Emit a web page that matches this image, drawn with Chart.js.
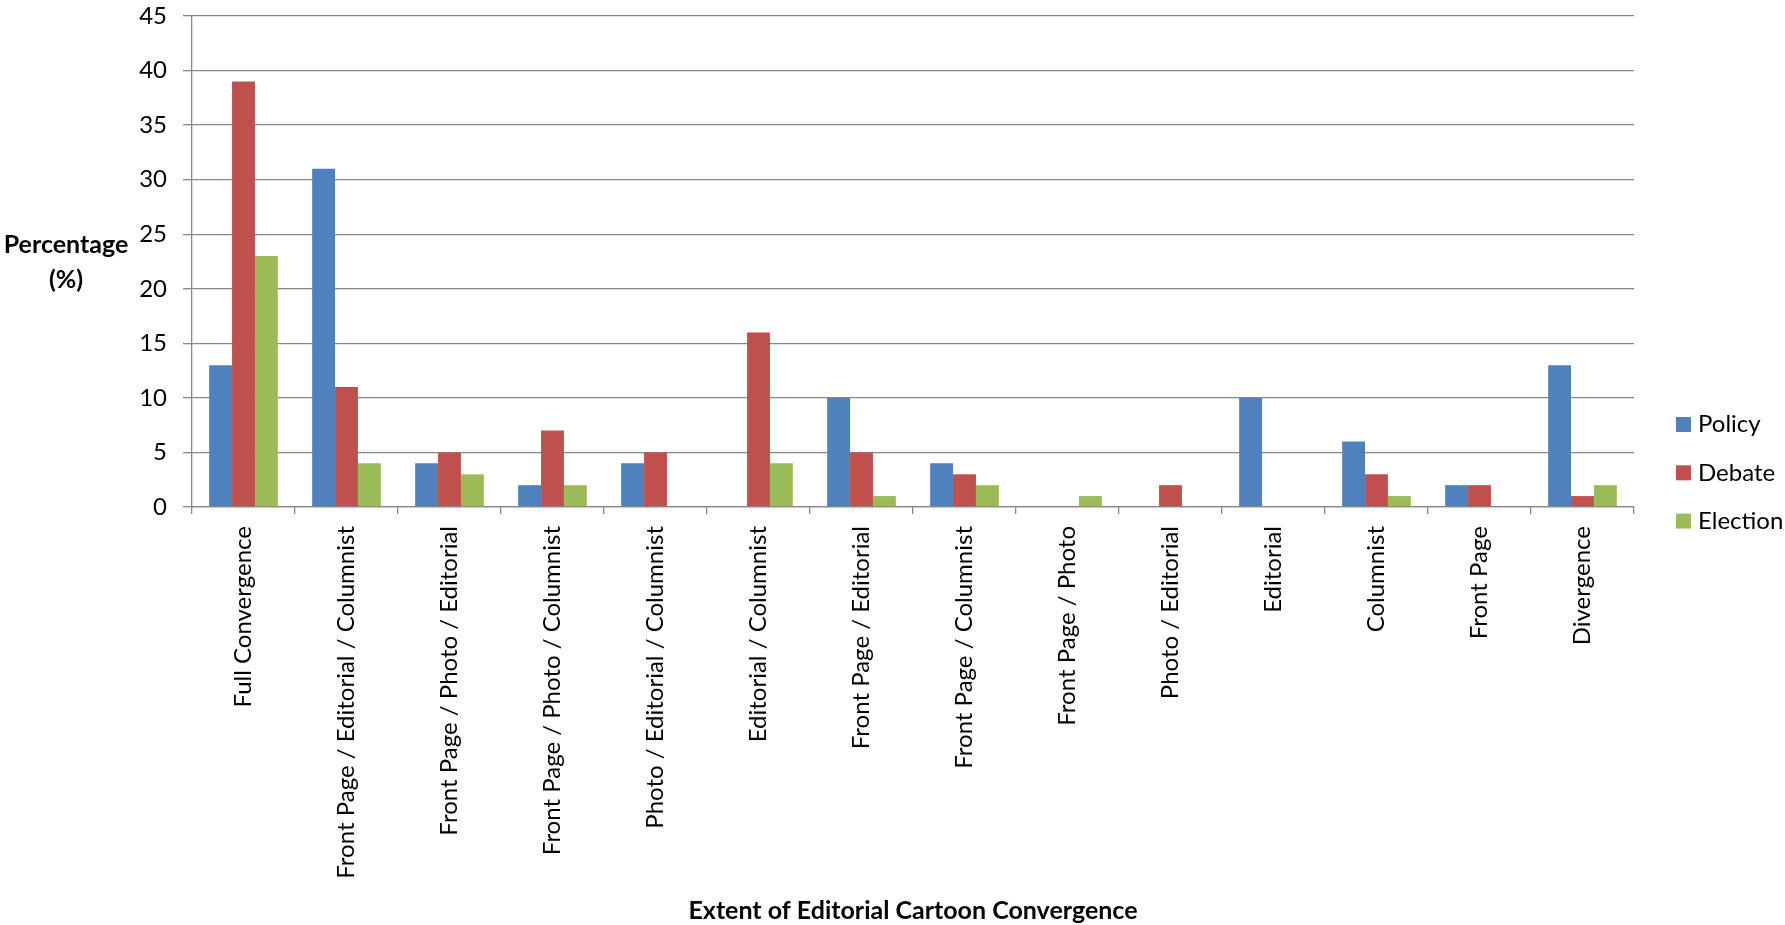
<!DOCTYPE html>
<html>
<head>
<meta charset="utf-8">
<script src="https://cdn.jsdelivr.net/npm/chart.js@4.4.1/dist/chart.umd.min.js"></script>
<style>
  html, body { margin: 0; padding: 0; background: #ffffff; }
  #wrap { width: 1785px; height: 925px; }
</style>
</head>
<body>
<div id="wrap"><canvas id="chart" width="1785" height="925"></canvas></div>
<script>
// Convergence categories along the x axis
const categories = [
  'Full Convergence',
  'Front Page / Editorial / Columnist',
  'Front Page / Photo / Editorial',
  'Front Page / Photo / Columnist',
  'Photo / Editorial / Columnist',
  'Editorial / Columnist',
  'Front Page / Editorial',
  'Front Page / Columnist',
  'Front Page / Photo',
  'Photo / Editorial',
  'Editorial',
  'Columnist',
  'Front Page',
  'Divergence'
];

// Percentages per series
const policy   = [13, 31, 4, 2, 4, 0, 10, 4, 0, 0, 10, 6, 2, 13];
const debate   = [39, 11, 5, 7, 5, 16, 5, 3, 0, 2, 0, 3, 2, 1];
const election = [23, 4, 3, 2, 0, 4, 1, 2, 1, 0, 0, 1, 0, 2];

const seriesNames = ['Policy', 'Debate', 'Election'];
const yTicks = [0, 5, 10, 15, 20, 25, 30, 35, 40, 45];

const yTitleLines = ['Percentage', '(%)'];
const xTitle = 'Extent of Editorial Cartoon Convergence';

const FONT = 'Lato, "Open Sans", sans-serif';
const FSIZE = 24;
const TSIZE = 25;
const GRID = '#878787';

// Axis titles and the legend drawn beside the plot
const decorations = {
  id: 'decorations',
  afterDraw(chart) {
    const ctx = chart.ctx;
    const area = chart.chartArea;
    ctx.save();
    ctx.fillStyle = '#000000';
    ctx.textAlign = 'center';
    ctx.textBaseline = 'middle';
    ctx.font = 'bold ' + TSIZE + 'px ' + FONT;
    ctx.fillText(yTitleLines[0], 66, 245);
    ctx.fillText(yTitleLines[1], 66, 280);
    ctx.fillText(xTitle, (area.left + area.right) / 2, 911);

    ctx.font = FSIZE + 'px ' + FONT;
    ctx.textAlign = 'left';
    const startY = 424.5, step = 48.3;
    chart.data.datasets.forEach((ds, i) => {
      const cy = startY + i * step;
      ctx.fillStyle = ds.backgroundColor;
      ctx.fillRect(1676, cy - 7.5, 15, 15);
      ctx.fillStyle = '#000000';
      ctx.fillText(ds.label, 1698, cy);
    });
    ctx.restore();
  }
};

new Chart(document.getElementById('chart'), {
  type: 'bar',
  data: {
    labels: categories,
    datasets: [
      { label: seriesNames[0], data: policy,   backgroundColor: '#4F81BD' },
      { label: seriesNames[1], data: debate,   backgroundColor: '#C0504D' },
      { label: seriesNames[2], data: election, backgroundColor: '#9BBB59' }
    ]
  },
  options: {
    responsive: false,
    animation: false,
    devicePixelRatio: 1,
    layout: { padding: { top: 0, right: 151, left: 0, bottom: 0 } },
    datasets: {
      bar: { categoryPercentage: 3 / 4.5, barPercentage: 1.0, borderWidth: 0 }
    },
    plugins: {
      legend: { display: false },
      tooltip: { enabled: false }
    },
    scales: {
      x: {
        afterFit(scale) { scale.height = 925 - 507; },
        grid: {
          drawOnChartArea: false,
          drawTicks: true,
          offset: true,
          tickLength: 7,
          color: GRID,
          lineWidth: 1.3
        },
        border: { color: GRID, width: 1.3 },
        ticks: {
          autoSkip: false,
          maxRotation: 90,
          minRotation: 90,
          padding: 12,
          color: '#000000',
          font: { family: FONT, size: FSIZE }
        }
      },
      y: {
        min: 0,
        max: 45,
        afterFit(scale) { scale.width = 192; scale.paddingTop = 16; },
        afterBuildTicks(scale) { scale.ticks = yTicks.map(v => ({ value: v })); },
        grid: { color: GRID, lineWidth: 1.3, tickLength: 9 },
        border: { color: GRID, width: 1.3 },
        ticks: {
          padding: 16,
          color: '#000000',
          font: { family: FONT, size: FSIZE }
        }
      }
    }
  },
  plugins: [decorations]
});
</script>
</body>
</html>
